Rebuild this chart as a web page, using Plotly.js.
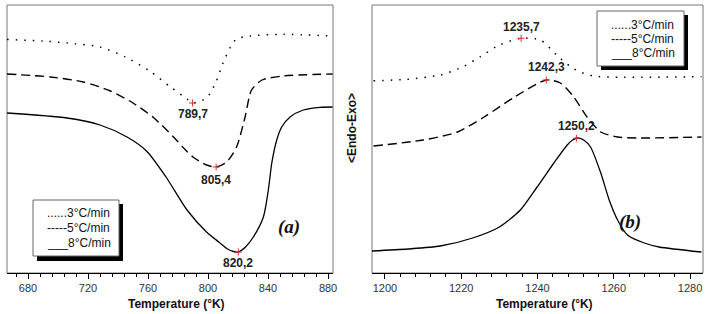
<!DOCTYPE html>
<html>
<head>
<meta charset="utf-8">
<script src="https://cdn.plot.ly/plotly-3.0.1.min.js"></script>
<style>html,body{margin:0;padding:0;background:#fff;}#chart{width:705px;height:314px;}</style>
</head>
<body>
<div id="chart"></div>
<script>
// ---- Panel (a): temperature (K) and signal (arbitrary units)
const aT3 = [666, 690, 706, 728, 745, 761, 775, 786, 789.7, 799, 805, 810, 815, 819, 828, 850, 883];
const aY3 = [233.5, 232, 230, 226, 216, 202, 186, 174, 170, 175, 190, 210, 226, 234, 237, 238.7, 237];
const aT5 = [666, 695, 717, 735, 750, 764, 777, 785, 790, 799, 805.4, 812.4, 819, 824.7, 829, 836, 850, 883];
const aY5 = [199, 196, 191, 182, 170, 155, 136, 123, 116, 108, 106, 111, 126, 156, 183, 193, 197, 199];
const aT8 = [666, 706, 728, 746, 759, 772, 786, 799, 808, 813, 817, 820.2, 825, 830.2, 836.9, 840.2, 842.5, 845.8, 849.1, 854.7, 863.5, 874.7, 883];
const aY8 = [160, 155, 148, 136, 122, 96, 63, 41, 30, 24, 21.5, 21, 26, 36, 56, 83, 110, 133, 146, 156, 163, 165.7, 166];
// ---- Panel (b)
const bT3 = [1197, 1205.8, 1214.5, 1220.5, 1225, 1230, 1235.7, 1240.8, 1245, 1248.7, 1251, 1254.7, 1262.6, 1283];
const bY3 = [192.3, 193.7, 198, 206.3, 216.3, 228, 234.7, 233, 218, 206.3, 201.3, 197, 195.7, 196.3];
const bT5 = [1197, 1210, 1219, 1226, 1234, 1242.3, 1246, 1249.5, 1253, 1256.6, 1261, 1267, 1283];
const bY5 = [127, 133, 141, 156, 176, 193, 190, 176, 156, 141, 136, 135, 136];
const bT8 = [1196.6, 1206, 1214.5, 1223, 1230, 1235.5, 1239.9, 1244.3, 1247.8, 1249.2, 1250.6, 1252.3, 1253.9, 1256.6, 1258.8, 1261, 1263.6, 1268, 1271.9, 1283];
const bY8 = [22, 24, 27, 35, 46, 63, 86, 110, 128, 133, 135, 132.5, 126, 100, 73, 53, 38, 30, 26, 21];
// ---- Peaks
const peakAT = [789.7, 805.4, 820.2];
const peakAY = [170, 106, 21];
const peakALabels = ["789,7", "805,4", "820,2"];
const peakBT = [1235.7, 1242.3, 1250.2];
const peakBY = [234.7, 193, 134.8];
const peakBLabels = ["1235,7", "1242,3", "1250,2"];
const legendLabels = ["......3°C/min", "-----5°C/min", "___8°C/min"];
const xTitle = "Temperature (°K)";
const yTitle = "&lt;Endo-Exo&gt;";

const W = 705, H = 314;
const px = v => v / W, py = v => 1 - v / H;

const dotStyle = {color: 'black', width: 1.5, dash: '1.5px,7px'};
const dashStyle = {color: 'black', width: 1.4, dash: '9px,5px'};
const solidStyle = {color: 'black', width: 1.3};

const traces = [
  {x: aT3, y: aY3, mode: 'lines', line: dotStyle, xaxis: 'x', yaxis: 'y'},
  {x: aT5, y: aY5, mode: 'lines', line: dashStyle, xaxis: 'x', yaxis: 'y'},
  {x: aT8, y: aY8, mode: 'lines', line: solidStyle, xaxis: 'x', yaxis: 'y'},
  {x: bT3, y: bY3, mode: 'lines', line: dotStyle, xaxis: 'x2', yaxis: 'y2'},
  {x: bT5, y: bY5, mode: 'lines', line: dashStyle, xaxis: 'x2', yaxis: 'y2'},
  {x: bT8, y: bY8, mode: 'lines', line: solidStyle, xaxis: 'x2', yaxis: 'y2'},
  {x: peakAT, y: peakAY, mode: 'markers', marker: {symbol: 'cross-thin', size: 5, line: {color: '#e03030', width: 1}}, xaxis: 'x', yaxis: 'y'},
  {x: peakBT, y: peakBY, mode: 'markers', marker: {symbol: 'cross-thin', size: 5, line: {color: '#e03030', width: 1}}, xaxis: 'x2', yaxis: 'y2'}
];
traces.forEach(t => { if (t.mode === 'lines') { t.line = Object.assign({}, t.line, {shape: 'spline', smoothing: 0.7}); } t.showlegend = false; t.hoverinfo = 'skip'; });

const tickFont = {family: 'Liberation Sans, Arial, sans-serif', size: 11, color: '#333'};
function xAxis(domain, range, dtick, minor) {
  return {domain: domain, range: range, dtick: dtick, tick0: 0, showgrid: false, zeroline: false,
    showline: true, linecolor: 'black', linewidth: 1.2, ticks: 'outside', ticklen: 5, tickcolor: 'black', tickwidth: 1,
    minor: {dtick: minor, tick0: 0, ticks: 'outside', ticklen: 3, tickcolor: 'black', tickwidth: 1},
    tickfont: tickFont, fixedrange: true};
}
function yAxis(anchor) {
  return {domain: [py(273), py(5)], range: [0, 268], showticklabels: false, showgrid: false, zeroline: false,
    showline: false, ticks: '', anchor: anchor, fixedrange: true};
}

const shapes = [
  {type: 'rect', xref: 'x domain', yref: 'y domain', x0: 0, x1: 1, y0: 0, y1: 1, line: {color: '#777', width: 1}, layer: 'below'},
  {type: 'rect', xref: 'x2 domain', yref: 'y2 domain', x0: 0, x1: 1, y0: 0, y1: 1, line: {color: '#777', width: 1}, layer: 'below'},
  // legend (a): shadow + box
  {type: 'rect', xref: 'paper', yref: 'paper', x0: px(37), x1: px(123), y0: py(261), y1: py(204), fillcolor: 'black', line: {width: 0}},
  {type: 'rect', xref: 'paper', yref: 'paper', x0: px(33), x1: px(119), y0: py(256), y1: py(200), fillcolor: 'white', line: {color: '#666', width: 1}},
  // legend (b)
  {type: 'rect', xref: 'paper', yref: 'paper', x0: px(601), x1: px(688), y0: py(70), y1: py(15), fillcolor: 'black', line: {width: 0}},
  {type: 'rect', xref: 'paper', yref: 'paper', x0: px(597), x1: px(684), y0: py(66), y1: py(11), fillcolor: 'white', line: {color: '#666', width: 1}}
];

const lblFont = {family: 'Liberation Sans, Arial, sans-serif', size: 12, color: '#222'};
const annotations = [];
const aShift = [-11, -13, -11];
peakAT.forEach((t, i) => annotations.push({x: t, y: peakAY[i], xref: 'x', yref: 'y', xanchor: 'center', yanchor: 'middle', text: '<b>' + peakALabels[i] + '</b>', showarrow: false, yshift: aShift[i], font: lblFont}));
const bShift = [11, 13, 12];
peakBT.forEach((t, i) => annotations.push({x: t, y: peakBY[i], xref: 'x2', yref: 'y2', xanchor: 'center', yanchor: 'middle', text: '<b>' + peakBLabels[i] + '</b>', showarrow: false, yshift: bShift[i], font: lblFont}));
const legFont = {family: 'Liberation Sans, Arial, sans-serif', size: 12, color: '#111'};
const legAY = [213, 228, 243], legBY = [25, 39, 53];
legendLabels.forEach((s, i) => {
  annotations.push({xref: 'paper', yref: 'paper', x: px(45), y: py(legAY[i]), xanchor: 'left', yanchor: 'middle', text: s, showarrow: false, font: legFont});
  annotations.push({xref: 'paper', yref: 'paper', x: px(609), y: py(legBY[i]), xanchor: 'left', yanchor: 'middle', text: s, showarrow: false, font: legFont});
});
const panelFont = {family: 'Liberation Serif, Times New Roman, serif', size: 19, color: '#111'};
annotations.push({xref: 'paper', yref: 'paper', x: px(289), y: py(227), xanchor: 'center', yanchor: 'middle', text: '<b><i>(a)</i></b>', showarrow: false, font: panelFont});
annotations.push({xref: 'paper', yref: 'paper', x: px(630), y: py(222), xanchor: 'center', yanchor: 'middle', text: '<b><i>(b)</i></b>', showarrow: false, font: panelFont});
const titleFont = {family: 'Liberation Sans, Arial, sans-serif', size: 12, color: '#111'};
annotations.push({xref: 'paper', yref: 'paper', x: px(177), y: py(304), xanchor: 'center', yanchor: 'middle', text: '<b>' + xTitle + '</b>', showarrow: false, font: titleFont});
annotations.push({xref: 'paper', yref: 'paper', x: px(544), y: py(304), xanchor: 'center', yanchor: 'middle', text: '<b>' + xTitle + '</b>', showarrow: false, font: titleFont});
annotations.push({xref: 'paper', yref: 'paper', x: px(352), y: py(128), xanchor: 'center', yanchor: 'middle', text: '<b>' + yTitle + '</b>', showarrow: false, textangle: -90, font: titleFont});

const layout = {
  width: W, height: H, margin: {l: 0, r: 0, t: 0, b: 0},
  paper_bgcolor: 'white', plot_bgcolor: 'white', showlegend: false,
  xaxis: Object.assign(xAxis([px(7), px(333)], [666, 883.3], 40, 8), {anchor: 'y'}),
  yaxis: yAxis('x'),
  xaxis2: Object.assign(xAxis([px(372), px(703)], [1196.6, 1283.4], 20, 4), {anchor: 'y2'}),
  yaxis2: yAxis('x2'),
  shapes: shapes, annotations: annotations
};
Plotly.newPlot('chart', traces, layout, {displayModeBar: false, staticPlot: true});
</script>
</body>
</html>
